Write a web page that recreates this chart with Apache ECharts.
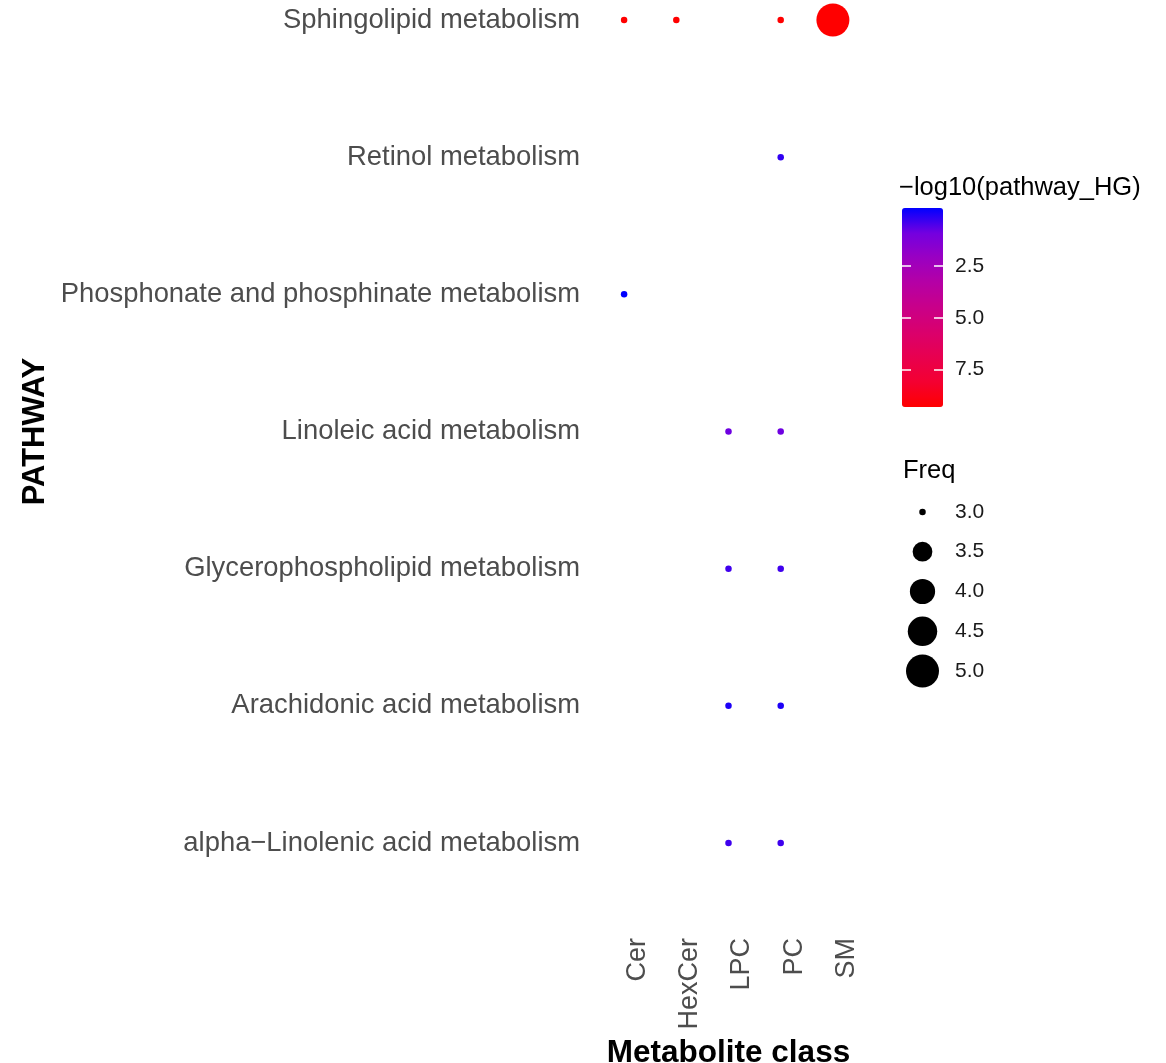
<!DOCTYPE html>
<html>
<head>
<meta charset="utf-8">
<script src="https://cdn.jsdelivr.net/npm/echarts@6/dist/echarts.min.js"></script>
<style>
  html, body { margin: 0; padding: 0; background: #fff; }
  #main { width: 1166px; height: 1063px; }
</style>
</head>
<body>
<div id="main"></div>
<script>
// categories
const pathways = [
  'alpha\u2212Linolenic acid metabolism',
  'Arachidonic acid metabolism',
  'Glycerophospholipid metabolism',
  'Linoleic acid metabolism',
  'Phosphonate and phosphinate metabolism',
  'Retinol metabolism',
  'Sphingolipid metabolism'
];
const classes = ['Cer', 'HexCer', 'LPC', 'PC', 'SM'];

// -log10(pathway_HG), one value per pathway (same order as pathways)
const pathwayHG = [0.35, 0.0, 0.37, 0.85, -0.3, 0.2, 9.3];

// points: pathway index, class index, Freq
const ptPathway = [6, 6, 6, 6, 5, 4, 3, 3, 2, 2, 1, 1, 0, 0];
const ptClass   = [0, 1, 3, 4, 3, 0, 2, 3, 2, 3, 2, 3, 2, 3];
const ptFreq    = [3, 3, 3, 5, 3, 3, 3, 3, 3, 3, 3, 3, 3, 3];

// legend breaks
const freqBreaks = [3.0, 3.5, 4.0, 4.5, 5.0];
const hgBreaks = [2.5, 5.0, 7.5];

const FONT = 'Liberation Sans, Arial, sans-serif';
const hgMin = Math.min(...pathwayHG), hgMax = Math.max(...pathwayHG);
const fMin = Math.min(...ptFreq), fMax = Math.max(...ptFreq);

// ggplot-like area scale, range 1..6
const sizeOf = f => 1.2 + 5.3 * (1 + 5 * Math.sqrt((f - fMin) / (fMax - fMin)));

// blue -> red, approximated Lab interpolation
const ramp = ['#0000FF', '#7300E0', '#9A00C2', '#B500A5', '#C90089', '#DA006C', '#E8004F', '#F40031', '#FF0000'];

const points = ptPathway.map((p, i) => [classes[ptClass[i]], pathways[p], pathwayHG[p], ptFreq[i]]);

const chart = echarts.init(document.getElementById('main'));

const barTick = offset => ({
  type: 'value', gridIndex: 2, position: 'left', offset: offset, min: hgMin, max: hgMax, inverse: true, z: 20,
  axisLine: { show: false }, splitLine: { show: false }, axisLabel: { show: false },
  axisTick: { inside: true, length: 9, lineStyle: { color: '#fff', width: 1.5 }, customValues: hgBreaks }
});

const option = {
  backgroundColor: '#fff',
  textStyle: { fontFamily: FONT },
  animation: false,
  title: [
    { text: '\u2212log10(pathway_HG)', left: 899, top: 175, padding: 0,
      textStyle: { fontSize: 25.5, fontWeight: 'normal', color: '#000', fontFamily: FONT } },
    { text: 'Freq', left: 903, top: 458, padding: 0,
      textStyle: { fontSize: 25.5, fontWeight: 'normal', color: '#000', fontFamily: FONT } }
  ],
  grid: [
    { left: 598, width: 261, top: 20, height: 823, outerBoundsMode: 'none' },   // main panel
    { left: 902, width: 41, top: 492, height: 199, outerBoundsMode: 'none' },   // Freq legend
    { left: 902, width: 41, top: 208, height: 199, outerBoundsMode: 'none' }    // colourbar ticks
  ],
  xAxis: [
    {
      type: 'category', gridIndex: 0, data: classes, boundaryGap: true,
      axisLine: { show: false }, axisTick: { show: false }, splitLine: { show: false },
      axisLabel: { rotate: 90, margin: 95, fontSize: 27, color: '#4d4d4d', fontFamily: FONT, verticalAlign: 'top' },
      name: 'Metabolite class', nameLocation: 'middle', nameGap: 175,
      nameTextStyle: { fontSize: 31.5, fontWeight: 'bold', color: '#000', fontFamily: FONT }
    },
    { type: 'category', gridIndex: 1, data: ['a'], show: false },
    { type: 'value', gridIndex: 2, show: false, min: 0, max: 1 }
  ],
  yAxis: [
    {
      type: 'category', gridIndex: 0, data: pathways, boundaryGap: false,
      axisLine: { show: false }, axisTick: { show: false }, splitLine: { show: false },
      axisLabel: { margin: 18, fontSize: 27.4, color: '#4d4d4d', fontFamily: FONT },
      name: 'PATHWAY', nameLocation: 'middle', nameGap: 547, nameRotate: 90,
      nameTextStyle: { fontSize: 31, fontWeight: 'bold', color: '#000', fontFamily: FONT }
    },
    {
      type: 'category', gridIndex: 1, data: freqBreaks.map(v => v.toFixed(1)), inverse: true,
      position: 'right',
      axisLine: { show: false }, axisTick: { show: false }, splitLine: { show: false },
      axisLabel: { margin: 12, fontSize: 21, color: '#1a1a1a', fontFamily: FONT }
    },
    {
      type: 'value', gridIndex: 2, position: 'right', min: hgMin, max: hgMax, inverse: true, z: 20,
      axisLine: { show: false }, splitLine: { show: false }, axisTick: { show: false },
      axisLabel: { margin: 12, fontSize: 21, color: '#1a1a1a', fontFamily: FONT, customValues: hgBreaks, formatter: v => v.toFixed(1) }
    },
    barTick(0),
    barTick(-32)
  ],
  visualMap: {
    type: 'continuous', seriesIndex: 0, dimension: 2, z: 1,
    min: hgMin, max: hgMax, inverse: true, calculable: false, hoverLink: false,
    left: 902, top: 208, itemWidth: 41, itemHeight: 199, padding: 0,
    inRange: { color: ramp },
    textStyle: { color: 'transparent' }
  },
  series: [
    {
      type: 'scatter', xAxisIndex: 0, yAxisIndex: 0, data: points, clip: false,
      itemStyle: { opacity: 1 },
      symbolSize: d => sizeOf(d[3])
    },
    {
      type: 'scatter', xAxisIndex: 1, yAxisIndex: 1, clip: false,
      data: freqBreaks.map((f, i) => ['a', i, f]),
      itemStyle: { color: '#000', opacity: 1 },
      symbolSize: d => sizeOf(d[2])
    }
  ]
};

chart.setOption(option);
</script>
</body>
</html>
